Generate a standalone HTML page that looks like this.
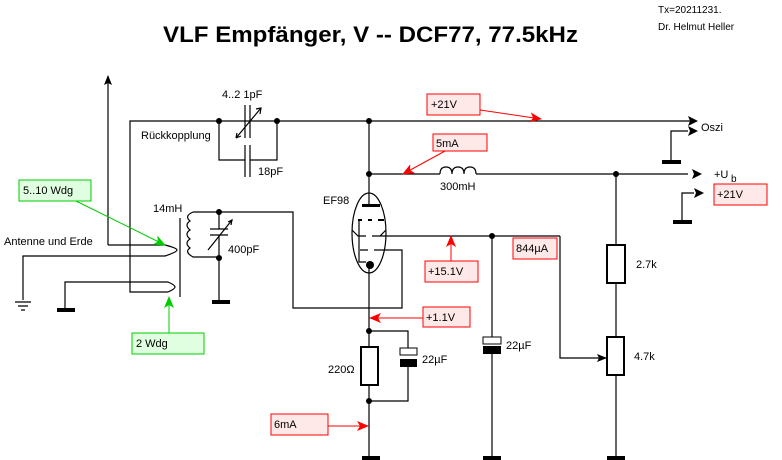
<!DOCTYPE html>
<html><head><meta charset="utf-8"><style>
html,body{margin:0;padding:0;background:#fff;}
svg{display:block;font-family:"Liberation Sans",sans-serif;}
</style></head><body>
<svg width="782" height="460" viewBox="0 0 782 460" xmlns="http://www.w3.org/2000/svg">
<defs>
<marker id="ab" markerWidth="10" markerHeight="8" refX="9" refY="4" orient="auto" markerUnits="userSpaceOnUse"><path d="M0,0 L10,4 L0,8 L2,4z" fill="#000"/></marker>
<marker id="ar" markerWidth="12" markerHeight="10" refX="11" refY="5" orient="auto" markerUnits="userSpaceOnUse"><path d="M0,0 L12,5 L0,10 L3,5z" fill="#f00"/></marker>
<marker id="ag" markerWidth="12" markerHeight="10" refX="11" refY="5" orient="auto" markerUnits="userSpaceOnUse"><path d="M0,0 L12,5 L0,10 L3,5z" fill="#0c0"/></marker>
</defs>
<text x="163" y="42" font-size="22" font-weight="bold" textLength="415" lengthAdjust="spacingAndGlyphs">VLF Empfänger, V -- DCF77, 77.5kHz</text>
<text x="658" y="13" font-size="10">Tx=20211231.</text>
<text x="658" y="30" font-size="10">Dr. Helmut Heller</text>

<g stroke="#000" stroke-width="1.2" fill="none">
<path d="M108,245 V76" marker-end="url(#ab)"/>
<path d="M108,245 H165 Q177,248 177,250 Q177,252 165,256 H23 V300"/>
<path d="M15,302 H31 M18,306 H28 M21,310 H25"/>
<path d="M65,310 V282 H168 Q175,285 175,287 Q175,289 168,292 H130 V121 H690" />
<path d="M180,218 V297"/>
<path d="M193,212 H293 V308 H402 V250 H386"/>
<path d="M193,212 Q184,216 190,221 Q184,225 190,230 Q184,234 190,239 Q184,243 190,248 Q184,252 193,257 H219"/>
<path d="M219,212 V229 M219,235 V302"/>
<path d="M210,229 H228 M210,235 H228"/>
<path d="M208,250 L232,220"/>
<path d="M228,222 L232,220 L231,225"/>
<path d="M219,121 V160 H245 M250,160 H277 V121"/>
<path d="M245,105 V138 M250,105 V138 M245,145 V177 M250,145 V177"/>
<path d="M236,138 L261,108 M256,109 L261,108 L260,114"/>
<path d="M236,138 L241,136 M236,138 L237,133"/>
<path d="M369,121 V206"/>
<path d="M369,174 H440 M476,174 H688"/>
<path d="M440,174 Q440,167 446,167 Q452,167 452,174 Q452,167 458,167 Q464,167 464,174 Q464,167 470,167 Q476,167 476,174"/>
<path d="M671,162 V131 H688"/>
<path d="M682,222 V193 H694"/>
<ellipse cx="369" cy="233" rx="17" ry="40"/>
<path d="M359,220 V262 H366"/>
<path d="M358,220 H362 M368,220 H372 M378,220 H384" stroke-width="2"/>
<path d="M352,230 L358,236 H366 M372,236 H380 L386,230 M380,236 H560"/>
<path d="M360,250 H368 M374,250 H386"/>
<path d="M369,266 V458"/>
<path d="M369,331 H408 V348 M408,367 V401 H369"/>
<path d="M492,236 V337 M492,354 V458"/>
<path d="M560,236 V358 H606" marker-end="url(#ab)"/>
<path d="M616,174 V245 M616,283 V337 M616,375 V458"/>
</g>
<g fill="#000">
<path d="M688,126 L698,131 L688,136 L690,131z"/>
<path d="M688,116 L698,121 L688,126 L690,121z"/>
<path d="M692,169 L702,174 L692,179 L694,174z"/>
<path d="M694,188 L704,193 L694,198 L696,193z"/>
<rect x="662" y="160" width="19" height="4"/>
<rect x="673" y="220" width="19" height="4"/>
<rect x="57" y="308" width="18" height="4"/>
<rect x="212" y="300" width="18" height="4"/>
<rect x="362" y="456" width="18" height="4"/>
<rect x="483" y="456" width="18" height="4"/>
<rect x="607" y="456" width="18" height="4"/>
<rect x="362" y="204" width="18" height="3"/>
<rect x="400" y="359" width="17" height="8"/>
<rect x="483" y="346" width="18" height="8"/>
<circle cx="219" cy="121" r="3"/><circle cx="277" cy="121" r="3"/>
<circle cx="219" cy="212" r="3"/><circle cx="219" cy="258" r="3"/>
<circle cx="369" cy="121" r="3"/><circle cx="369" cy="174" r="3"/>
<circle cx="616" cy="174" r="3"/><circle cx="492" cy="236" r="3"/>
<circle cx="370" cy="265" r="4"/><circle cx="369" cy="331" r="3"/><circle cx="369" cy="401" r="3"/>
</g>
<g fill="#fff" stroke="#000" stroke-width="2">
<rect x="361" y="347" width="17" height="38"/>
<rect x="607" y="245" width="18" height="38"/>
<rect x="607" y="337" width="17" height="38"/>
</g>
<g fill="#fff" stroke="#000" stroke-width="1">
<rect x="400" y="348" width="17" height="7"/>
<rect x="483" y="337" width="18" height="7"/>
</g>
<g font-size="11" fill="#000">
<text x="222" y="98">4..2 1pF</text>
<text x="141" y="139">Rückkopplung</text>
<text x="258" y="175">18pF</text>
<text x="153" y="212">14mH</text>
<text x="228" y="253">400pF</text>
<text x="4" y="245">Antenne und Erde</text>
<text x="323" y="204">EF98</text>
<text x="440" y="190">300mH</text>
<text x="701" y="131">Oszi</text>
<text x="714" y="178">+U</text><text x="731" y="182" font-size="10">b</text>
<text x="328" y="373">220Ω</text>
<text x="422" y="363">22µF</text>
<text x="506" y="349">22µF</text>
<text x="636" y="268">2.7k</text>
<text x="634" y="360">4.7k</text>
</g>
<g stroke="#f00" stroke-width="1" fill="#ffe8e8">
<rect x="427" y="94" width="53" height="21"/>
<rect x="433" y="134" width="54" height="17"/>
<rect x="714" y="184" width="53" height="21"/>
<rect x="513" y="238" width="44" height="21"/>
<rect x="425" y="261" width="53" height="21"/>
<rect x="423" y="307" width="47" height="20"/>
<rect x="271" y="414" width="57" height="21"/>
</g>
<g stroke="#f00" stroke-width="1" fill="none">
<path d="M480,110 L541,119" marker-end="url(#ar)"/>
<path d="M445,151 L403,174" marker-end="url(#ar)"/>
<path d="M451,261 V236" marker-end="url(#ar)"/>
<path d="M423,318 H370" marker-end="url(#ar)"/>
<path d="M328,426 H368" marker-end="url(#ar)"/>
</g>
<g font-size="11" fill="#000">
<text x="431" y="108">+21V</text>
<text x="436" y="147">5mA</text>
<text x="717" y="198">+21V</text>
<text x="516" y="252">844µA</text>
<text x="428" y="275">+15.1V</text>
<text x="426" y="321">+1.1V</text>
<text x="274" y="428">6mA</text>
</g>
<g stroke="#0c0" stroke-width="1" fill="#e0ffe0">
<rect x="19" y="180" width="72" height="21"/>
<rect x="132" y="333" width="72" height="21"/>
</g>
<g stroke="#0c0" stroke-width="1" fill="none">
<path d="M76,201 L165,245" marker-end="url(#ag)"/>
<path d="M169,333 V297" marker-end="url(#ag)"/>
</g>
<g font-size="11" fill="#000">
<text x="23" y="194">5..10 Wdg</text>
<text x="136" y="347">2 Wdg</text>
</g>
</svg>
</body></html>
